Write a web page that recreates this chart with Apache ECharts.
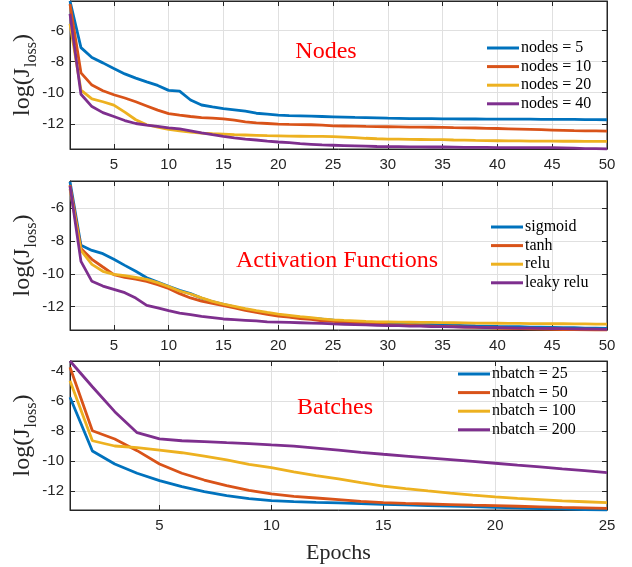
<!DOCTYPE html>
<html>
<head>
<meta charset="utf-8">
<title>loss curves</title>
<script src="https://cdn.jsdelivr.net/npm/echarts@6/dist/echarts.min.js"></script>
<style>
  html, body { margin: 0; padding: 0; background: #fff; }
  #main { width: 632px; height: 567px; }
</style>
</head>
<body>
<div id="main"></div>
<script type="text/javascript">
// ---- data ----
var nodesNames = ['nodes = 5', 'nodes = 10', 'nodes = 20', 'nodes = 40'];
var nodes5 = [-4.1, -7.1, -7.74, -8.08, -8.44, -8.79, -9.06, -9.3, -9.53, -9.85, -9.9, -10.47, -10.79, -10.91, -11.02, -11.1, -11.19, -11.32, -11.38, -11.44, -11.47, -11.49, -11.51, -11.53, -11.55, -11.57, -11.59, -11.6, -11.62, -11.64, -11.65, -11.66, -11.66, -11.67, -11.68, -11.68, -11.69, -11.69, -11.7, -11.7, -11.7, -11.7, -11.7, -11.71, -11.71, -11.72, -11.72, -11.73, -11.73, -11.74];
var nodes10 = [-4.3, -8.72, -9.51, -9.87, -10.13, -10.34, -10.58, -10.85, -11.12, -11.34, -11.44, -11.53, -11.6, -11.64, -11.68, -11.76, -11.87, -11.94, -11.98, -12.02, -12.04, -12.05, -12.06, -12.08, -12.13, -12.14, -12.15, -12.17, -12.18, -12.19, -12.2, -12.21, -12.21, -12.22, -12.23, -12.25, -12.26, -12.27, -12.29, -12.3, -12.32, -12.34, -12.36, -12.38, -12.4, -12.42, -12.44, -12.45, -12.46, -12.47];
var nodes20 = [-5.57, -9.83, -10.4, -10.58, -10.8, -11.25, -11.74, -12.06, -12.21, -12.36, -12.45, -12.53, -12.6, -12.64, -12.66, -12.7, -12.72, -12.74, -12.76, -12.77, -12.79, -12.8, -12.81, -12.81, -12.82, -12.85, -12.89, -12.93, -12.96, -12.98, -12.99, -13.0, -13.01, -13.02, -13.02, -13.04, -13.05, -13.07, -13.08, -13.09, -13.1, -13.1, -13.11, -13.11, -13.11, -13.12, -13.12, -13.13, -13.13, -13.13];
var nodes40 = [-4.93, -10.1, -10.89, -11.28, -11.53, -11.79, -11.98, -12.09, -12.17, -12.26, -12.32, -12.45, -12.58, -12.7, -12.81, -12.9, -12.98, -13.04, -13.11, -13.17, -13.21, -13.28, -13.32, -13.36, -13.38, -13.4, -13.42, -13.44, -13.46, -13.47, -13.47, -13.48, -13.48, -13.49, -13.49, -13.5, -13.51, -13.52, -13.52, -13.53, -13.53, -13.53, -13.53, -13.53, -13.53, -13.55, -13.57, -13.59, -13.6, -13.62];

var actNames = ['sigmoid', 'tanh', 'relu', 'leaky relu'];
var sigmoid = [-4.4, -8.27, -8.58, -8.78, -9.12, -9.49, -9.85, -10.24, -10.5, -10.77, -11.01, -11.21, -11.48, -11.7, -11.86, -12.02, -12.16, -12.29, -12.41, -12.51, -12.6, -12.66, -12.72, -12.76, -12.82, -12.88, -12.93, -12.97, -13.0, -13.03, -13.05, -13.07, -13.09, -13.1, -13.12, -13.13, -13.15, -13.17, -13.18, -13.2, -13.21, -13.22, -13.24, -13.25, -13.26, -13.27, -13.28, -13.3, -13.31, -13.32];
var tanh = [-4.6, -8.47, -9.12, -9.59, -10.05, -10.22, -10.32, -10.46, -10.66, -10.9, -11.21, -11.47, -11.66, -11.8, -11.94, -12.08, -12.22, -12.35, -12.47, -12.57, -12.63, -12.72, -12.78, -12.86, -12.9, -12.95, -12.99, -13.03, -13.07, -13.1, -13.12, -13.14, -13.16, -13.18, -13.2, -13.22, -13.24, -13.26, -13.28, -13.3, -13.32, -13.33, -13.35, -13.36, -13.38, -13.39, -13.4, -13.41, -13.42, -13.42];
var relu = [-4.83, -8.58, -9.43, -9.85, -10.04, -10.12, -10.22, -10.34, -10.54, -10.78, -11.05, -11.23, -11.47, -11.68, -11.84, -11.98, -12.12, -12.24, -12.35, -12.45, -12.53, -12.61, -12.67, -12.74, -12.8, -12.84, -12.87, -12.9, -12.92, -12.93, -12.94, -12.95, -12.96, -12.96, -12.97, -12.98, -12.99, -13.0, -13.0, -13.01, -13.02, -13.02, -13.03, -13.03, -13.04, -13.04, -13.05, -13.05, -13.06, -13.06];
var leakyRelu = [-4.67, -9.25, -10.46, -10.75, -10.95, -11.15, -11.48, -11.92, -12.08, -12.24, -12.39, -12.49, -12.59, -12.67, -12.75, -12.79, -12.83, -12.87, -12.92, -12.94, -12.96, -12.98, -13.0, -13.02, -13.05, -13.07, -13.09, -13.11, -13.13, -13.15, -13.16, -13.18, -13.19, -13.21, -13.22, -13.23, -13.24, -13.25, -13.27, -13.28, -13.29, -13.3, -13.31, -13.32, -13.33, -13.34, -13.35, -13.36, -13.37, -13.38];

var batchNames = ['nbatch = 25', 'nbatch = 50', 'nbatch = 100', 'nbatch = 200'];
var nbatch25 = [-5.75, -9.33, -10.2, -10.82, -11.31, -11.71, -12.04, -12.31, -12.51, -12.64, -12.71, -12.76, -12.8, -12.85, -12.89, -12.93, -12.97, -13.01, -13.05, -13.09, -13.13, -13.17, -13.2, -13.24, -13.27];
var nbatch50 = [-3.75, -7.98, -8.53, -9.31, -10.2, -10.82, -11.27, -11.64, -11.96, -12.2, -12.36, -12.47, -12.58, -12.69, -12.78, -12.83, -12.87, -12.91, -12.95, -12.98, -13.02, -13.06, -13.1, -13.13, -13.16];
var nbatch100 = [-4.65, -8.65, -9.0, -9.11, -9.27, -9.45, -9.67, -9.93, -10.22, -10.45, -10.72, -10.98, -11.2, -11.45, -11.67, -11.84, -12.0, -12.15, -12.28, -12.4, -12.5, -12.58, -12.66, -12.72, -12.78];
var nbatch200 = [-3.33, -5.05, -6.71, -8.11, -8.53, -8.65, -8.71, -8.78, -8.84, -8.93, -9.01, -9.14, -9.28, -9.42, -9.55, -9.67, -9.79, -9.91, -10.03, -10.15, -10.28, -10.4, -10.53, -10.65, -10.78];

var ticksX50 = [5, 10, 15, 20, 25, 30, 35, 40, 45, 50];
var ticksX25 = [5, 10, 15, 20, 25];
var ticksY12 = [-12, -10, -8, -6];
var ticksY34 = [-12, -10, -8, -6, -4];
var panelTitles = ['Nodes', 'Activation Functions', 'Batches'];

// ---- chart ----
var colors = ['#0072BD', '#D95319', '#EDB120', '#7E2F8E'];
var axisColor = '#262626';
var serif = '"Liberation Serif", "DejaVu Serif", serif';
var sans = '"Liberation Sans", Arial, sans-serif';

function pairs(vals) {
    var out = [];
    for (var i = 0; i < vals.length; i++) out.push([i + 1, vals[i]]);
    return out;
}

var grids = [
    { left: 70, top: 1, width: 537, height: 148 },
    { left: 70, top: 181, width: 537, height: 149 },
    { left: 70, top: 361, width: 537, height: 149 }
];
var xMax = [50, 50, 25];
var xTicks = [ticksX50, ticksX50, ticksX25];
var yRange = [[-13.62, -4.1], [-13.42, -4.36], [-13.27, -3.33]];
var yTicks = [ticksY12, ticksY12, ticksY34];

var xAxes = [], yAxes = [];
for (var g = 0; g < 3; g++) {
    grids[g].show = true;
    grids[g].borderColor = axisColor;
    grids[g].borderWidth = 1;
    grids[g].outerBoundsMode = 'none';
    grids[g].containLabel = false;
    xAxes.push({
        type: 'value', gridIndex: g, min: 1, max: xMax[g], position: 'bottom',
        axisLine: { show: true, lineStyle: { color: axisColor, width: 1 } },
        axisTick: { show: true, inside: true, length: 5, customValues: xTicks[g], lineStyle: { color: axisColor } },
        axisLabel: { show: true, customValues: xTicks[g], color: axisColor, fontFamily: sans, fontSize: 15, margin: 8 },
        splitLine: { show: true, lineStyle: { color: '#e0e0e0', width: 1 } },
        name: g === 2 ? 'Epochs' : '',
        nameLocation: 'middle', nameGap: 32, nameMoveOverlap: false,
        nameTextStyle: { fontFamily: serif, fontSize: 22, color: axisColor }
    });
    xAxes.push({
        type: 'value', gridIndex: g, min: 1, max: xMax[g], position: 'top',
        axisLine: { show: true, lineStyle: { color: axisColor, width: 1 } },
        axisTick: { show: true, inside: true, length: 5, customValues: xTicks[g], lineStyle: { color: axisColor } },
        axisLabel: { show: false },
        splitLine: { show: false }
    });
    yAxes.push({
        type: 'value', gridIndex: g, min: yRange[g][0], max: yRange[g][1], position: 'left',
        axisLine: { show: true, lineStyle: { color: axisColor, width: 1 } },
        axisTick: { show: true, inside: true, length: 5, customValues: yTicks[g], lineStyle: { color: axisColor } },
        axisLabel: { show: true, customValues: yTicks[g], color: axisColor, fontFamily: sans, fontSize: 15, margin: 6 },
        splitLine: { show: true, lineStyle: { color: '#e0e0e0', width: 1 } },
        name: '{a|log(J}{b|loss}{a|)}',
        nameLocation: 'middle', nameRotate: 90, nameGap: 35, nameMoveOverlap: false,
        nameTextStyle: {
            color: axisColor,
            rich: {
                a: { fontFamily: serif, fontSize: 24, lineHeight: 24, verticalAlign: 'top', color: axisColor },
                b: { fontFamily: serif, fontSize: 16, lineHeight: 16, padding: [13, 0, 0, 1], verticalAlign: 'top', color: axisColor }
            }
        }
    });
    yAxes.push({
        type: 'value', gridIndex: g, min: yRange[g][0], max: yRange[g][1], position: 'right',
        axisLine: { show: true, lineStyle: { color: axisColor, width: 1 } },
        axisTick: { show: true, inside: true, length: 5, customValues: yTicks[g], lineStyle: { color: axisColor } },
        axisLabel: { show: false },
        splitLine: { show: false }
    });
}

var panelSeries = [
    [nodes5, nodes10, nodes20, nodes40],
    [sigmoid, tanh, relu, leakyRelu],
    [nbatch25, nbatch50, nbatch100, nbatch200]
];
var panelNames = [nodesNames, actNames, batchNames];
var series = [];
for (var p = 0; p < 3; p++) {
    for (var s = 0; s < 4; s++) {
        series.push({
            name: panelNames[p][s],
            type: 'line',
            xAxisIndex: p * 2,
            yAxisIndex: p * 2,
            data: pairs(panelSeries[p][s]),
            showSymbol: false,
            symbol: 'none',
            lineStyle: { color: colors[s], width: 2.8 },
            itemStyle: { color: colors[s] },
            animation: false
        });
    }
}

var legendPos = [[487, 40], [491, 219], [458, 366]];
var legends = [];
for (var l = 0; l < 3; l++) {
    legends.push({
        data: panelNames[l],
        orient: 'vertical',
        left: legendPos[l][0], top: legendPos[l][1],
        icon: 'rect', itemWidth: 32, itemHeight: 3, itemGap: 2.6,
        padding: 0,
        selectedMode: false,
        textStyle: { fontFamily: serif, fontSize: 16, color: '#000', lineHeight: 16, padding: [0, 0, 0, -3] }
    });
}

var titlePos = [[326, 52], [337, 261], [335, 408]];
var graphics = [];
for (var t = 0; t < 3; t++) {
    graphics.push({
        type: 'text', x: titlePos[t][0], y: titlePos[t][1], z: 100,
        style: {
            text: panelTitles[t], fill: '#ff0000',
            font: '24px ' + serif,
            textAlign: 'center', textVerticalAlign: 'middle'
        }
    });
}

var myChart = echarts.init(document.getElementById('main'), null, { renderer: 'canvas' });
myChart.setOption({
    animation: false,
    grid: grids,
    xAxis: xAxes,
    yAxis: yAxes,
    legend: legends,
    graphic: graphics,
    series: series
});
</script>
</body>
</html>
